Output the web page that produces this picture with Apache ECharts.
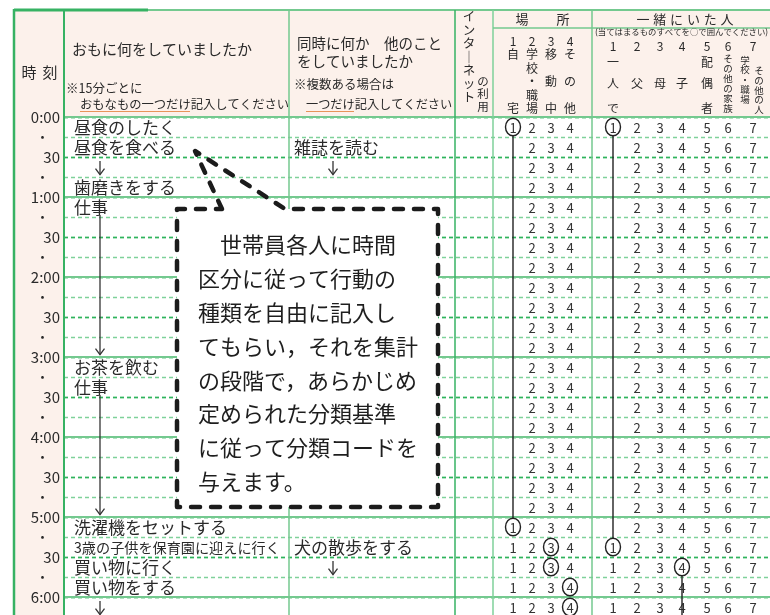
<!DOCTYPE html>
<html><head><meta charset="utf-8">
<script src="https://cdn.jsdelivr.net/npm/echarts@6/dist/echarts.min.js"></script>
<style>html,body{margin:0;padding:0;background:#fff}#c{width:770px;height:615px}</style>
</head><body><div id="c"></div><script>
// ---------- data ----------
const timeLabels = ['0:00','・','30','・','1:00','・','30','・','2:00','・','30','・','3:00','・','30','・','4:00','・','30','・','5:00','・','30','・','6:00'];
const mainRows  = [0,1,3,4,12,13,20,21,22,23];
const mainTexts = ['昼食のしたく','昼食を食べる','歯磨きをする','仕事','お茶を飲む','仕事','洗濯機をセットする','3歳の子供を保育園に迎えに行く','買い物に行く','買い物をする'];
const mainArrowFrom = [2,5,14,24];
const mainArrowTo   = [2,11,19,24];
const subRows  = [1,21];
const subTexts = ['雑誌を読む','犬の散歩をする'];
const subArrowFrom = [2,22];
const subArrowTo   = [2,22];
const placeDigits = ['1','2','3','4'];
const withDigits  = ['1','2','3','4','5','6','7'];
const placeCircleRows  = [0,20,21,22,23,24];
const placeCircleCodes = [1,1,3,3,4,4];
const withCircleRows   = [0,21,22];
const withCircleCodes  = [1,1,4];
const placeLinkFrom = [0],  placeLinkTo = [20],  placeLinkCode = [1],  placeLinkHide = [true];
const withLinkFrom  = [0,22], withLinkTo = [21,25], withLinkCode = [1,4], withLinkHide = [true,false];
const calloutLines = ['　世帯員各人に時間','区分に従って行動の','種類を自由に記入し','てもらい，それを集計','の段階で，あらかじめ','定められた分類基準','に従って分類コードを','与えます。'];

// ---------- layout / style ----------
const FONT = '"Noto Sans CJK JP","Noto Sans",sans-serif';
const INK = '#2a2a2a';
const G_DARK = '#36b263', G_MID = '#74c98f', G_LIGHT = '#7fd19a', G_DASH2 = '#2fb35c';
const PINK = '#fcf1eb';
const ROWS = timeLabels.length;
const MAIN_X = 74, SUB_X = 294, MAIN_ARROW_X = 100, SUB_ARROW_X = 333;
const PLACE_X = [513,532,551,570];
const WITH_X = [613,637,660,682,707,728,753];

function textLen(s){let n=0;for(const ch of s){n+= ch.charCodeAt(0)<256?0.55:1;}return n;}

function textSeries(rows, texts, x0, maxW){
  return {type:'custom', silent:true, z:5, data: rows.map(r=>[r]),
    renderItem(params, api){
      const r = api.value(0); const t = texts[params.dataIndex];
      const p = api.coord([x0, r+0.5]);
      const fs = Math.min(17, maxW/textLen(t));
      return {type:'text', x:p[0], y:p[1]+1, style:{text:t, fontSize:fs, fontFamily:FONT, fill:INK, align:'left', verticalAlign:'middle'}};
    }};
}
function arrowSeries(from, to, x0){
  return {type:'custom', silent:true, z:5, data: from.map((f,i)=>[f,to[i]]),
    renderItem(params, api){
      const f = api.value(0), t = api.value(1);
      const a = api.coord([x0, f===t ? f+0.2 : f-0.1]);
      const b = api.coord([x0, t+0.88]);
      const st = {stroke:'#333', lineWidth:1.3, fill:null};
      return {type:'group', children:[
        {type:'line', shape:{x1:a[0],y1:a[1],x2:b[0],y2:b[1]}, style:st},
        {type:'polyline', shape:{points:[[b[0]-4.5,b[1]-6],[b[0],b[1]],[b[0]+4.5,b[1]-6]]}, style:st}
      ]};
    }};
}
function hiddenDigit(r, code, lf, lt, lc, lh){
  for(let j=0;j<lf.length;j++){ if(lh[j] && lc[j]===code && r>lf[j] && r<lt[j]) return true; }
  return false;
}
const codeSeries = {type:'custom', silent:true, z:6, data: timeLabels.map((_,i)=>[i]),
  renderItem(params, api){
    const r = api.value(0);
    const yc = api.coord([PLACE_X[0], r+0.5])[1];
    const ch = [];
    function addSet(xs, digits, cRows, cCodes, lf, lt, lc, lh){
      digits.forEach((d,k)=>{
        const code = k+1; const x = api.coord([xs[k], r])[0];
        if(!hiddenDigit(r, code, lf, lt, lc, lh))
          ch.push({type:'text', x:x, y:yc+1, style:{text:d, fontSize:13, fontFamily:FONT, fill:'#333', align:'center', verticalAlign:'middle'}});
        for(let j=0;j<cRows.length;j++) if(cRows[j]===r && cCodes[j]===code)
          ch.push({type:'ellipse', shape:{cx:x, cy:yc, rx:7.5, ry:8.8}, style:{fill:null, stroke:'#222', lineWidth:1.4}});
      });
    }
    addSet(PLACE_X, placeDigits, placeCircleRows, placeCircleCodes, placeLinkFrom, placeLinkTo, placeLinkCode, placeLinkHide);
    addSet(WITH_X, withDigits, withCircleRows, withCircleCodes, withLinkFrom, withLinkTo, withLinkCode, withLinkHide);
    return {type:'group', children:ch};
  },
  markLine:{silent:true, symbol:'none', label:{show:false},
    data:[
      {xAxis:289, lineStyle:{color:G_MID, width:1.5, type:'solid'}},
      {xAxis:455, lineStyle:{color:G_DARK, width:1.5, type:'solid'}},
      {xAxis:493, lineStyle:{color:G_LIGHT, width:1.5, type:'solid'}},
      {xAxis:592, lineStyle:{color:G_MID, width:1.5, type:'solid'}}
    ]}
};
function linkSeries(xs, lf, lt, lc){
  return {type:'custom', silent:true, z:6, data: lf.map((f,i)=>[f, lt[i], lc[i]]),
    renderItem(params, api){
      const f=api.value(0), t=api.value(1), c=api.value(2);
      const x = api.coord([xs[c-1], f])[0];
      const y1 = api.coord([xs[c-1], f+0.5])[1] + 8.8;
      const y2 = t < ROWS ? api.coord([xs[c-1], t+0.5])[1] - 8.8 : api.coord([xs[c-1], t])[1];
      return {type:'line', shape:{x1:x,y1:y1,x2:x,y2:y2}, style:{stroke:'#222', lineWidth:1.4}};
    }};
}

// ---------- header graphics ----------
const G = [];
function T(text, x, y, size, align, extra){ G.push(Object.assign({type:'text', x:x, y:y, z:10, style:{text:text, fontSize:size, fontFamily:FONT, fill:INK, align:align||'left', verticalAlign:'middle'}}, extra||{})); }
function V(text, x, yTop, size, lh){ G.push({type:'text', x:x, y:yTop, z:10, style:{text:text.split('').join('\n'), fontSize:size, lineHeight:lh, fontFamily:FONT, fill:INK, align:'center', verticalAlign:'top'}}); }
function L(x1,y1,x2,y2,color,w,z){ G.push({type:'line', z:z||8, shape:{x1,y1,x2,y2}, style:{stroke:color, lineWidth:w}}); }

G.push({type:'rect', z:-5, shape:{x:14,y:10,width:756,height:107}, style:{fill:PINK}});
G.push({type:'rect', z:-5, shape:{x:14,y:10,width:50,height:605}, style:{fill:PINK}});
L(14,10,770,10,G_MID,2);
L(14,10,148,10,G_DARK,3);
L(14,9,14,615,G_DARK,2.5);
L(64,10,64,117,G_DARK,2);
L(289,10,289,117,G_MID,1.5);
L(455,10,455,117,G_DARK,1.5);
L(493,10,493,117,G_LIGHT,1.5);
L(592,10,592,117,G_MID,1.5);
L(493,28,770,28,G_MID,1.5);

T('時',29,72,15,'center'); T('刻',50,72,15,'center');
T('おもに何をしていましたか',72,49,15);
T('※15分ごとに',66,88,12.5);
T('おもなもの一つだけ記入してください',80,104,12.3);
L(80,111.5,190,111.5,'#e8935a',1);
T('同時に何か　他のこと',297,43,14.5);
T('をしていましたか',297,61,14.5);
T('※複数ある場合は',294,84,12.5);
T('一つだけ記入してください',306,104,12.2);
L(306,111.5,354,111.5,'#e8935a',1);
V('インタ｜ネット',469,10,12.5,13.4);
V('の利用',483,75,11.5,12.6);
T('場',522,19,13,'center'); T('所',563,19,13,'center');
placeDigits.forEach((d,k)=>T(d,PLACE_X[k],41,12,'center'));
[['自',0,54],['宅',0,108],['学',1,54],['校',1,68],['・',1,81],['職',1,95],['場',1,108],['移',2,54],['動',2,81],['中',2,108],['そ',3,54],['の',3,81],['他',3,108]]
  .forEach(a=>T(a[0],PLACE_X[a[1]],a[2],12,'center'));
['一','緒','に','い','た','人'].forEach((c,i)=>T(c,643+i*16.8,19,13,'center'));
T('(当てはまるものすべてを○で囲んでください)',595,32,8.4);
withDigits.forEach((d,k)=>T(d,WITH_X[k],46,12,'center'));
[['一',0,62],['人',0,83],['で',0,108],['父',1,83],['母',2,83],['子',3,83],['配',4,62],['偶',4,83],['者',4,108]]
  .forEach(a=>T(a[0],WITH_X[a[1]],a[2],12,'center'));
V('その他の家族',728,53,9.5,10);
V('学校・職場',745,55,9.5,9.8);
V('その他の人',759,66,9.5,9.6);

// ---------- callout ----------
G.push({type:'rect', z:99, shape:{x:177,y:209,width:261,height:298}, style:{fill:'#fff'}});
G.push({type:'polyline', z:100, shape:{points:[[222,209],[195,151],[285,209],[438,209],[438,507],[177,507],[177,209],[222,209]]},
  style:{fill:null, stroke:'#1b1b1b', lineWidth:4.5, lineDash:[9,11], lineCap:'round', lineJoin:'round'}});
calloutLines.forEach((s,i)=>G.push({type:'text', z:101, x:198, y:245+i*33.8, style:{text:s, fontSize:22, fontFamily:FONT, fill:'#1e1e1e', align:'left', verticalAlign:'middle'}}));

// ---------- chart ----------
const hidden = {axisLine:{show:false}, axisTick:{show:false}, axisLabel:{show:false}};
const chart = echarts.init(document.getElementById('c'), null, {renderer:'canvas'});
chart.setOption({
  animation:false,
  backgroundColor:'#ffffff',
  grid:{left:64, top:117, width:706, height:ROWS*20, containLabel:false, outerBoundsMode:'none'},
  xAxis:{type:'value', min:64, max:770, show:false},
  yAxis:[
    {type:'value', inverse:true, min:0, max:ROWS, interval:1, position:'left',
     axisLine:{show:true, lineStyle:{color:G_DARK, width:2}}, axisTick:{show:false},
     axisLabel:{margin:4, fontSize:15, color:INK, fontFamily:FONT,
       formatter:v=>{const s=timeLabels[v]; if(s===undefined) return ''; return s==='・' ? '{d|・}' : s;},
       rich:{d:{fontSize:13, color:INK, fontFamily:FONT, padding:[0,11,0,0]}}},
     splitLine:{show:true, lineStyle:{type:[4,3], width:1.3, color:G_LIGHT}}},
    Object.assign({type:'value', inverse:true, min:0, max:ROWS, interval:2, position:'left',
     splitLine:{show:true, lineStyle:{type:[4,3], width:1.3, color:G_DASH2}}}, hidden),
    Object.assign({type:'value', inverse:true, min:0, max:ROWS, interval:4, position:'left',
     splitLine:{show:true, lineStyle:{color:G_MID, width:2, type:'solid'}}}, hidden)
  ],
  series:[
    codeSeries,
    linkSeries(PLACE_X, placeLinkFrom, placeLinkTo, placeLinkCode),
    linkSeries(WITH_X, withLinkFrom, withLinkTo, withLinkCode),
    textSeries(mainRows, mainTexts, MAIN_X, 206),
    textSeries(subRows, subTexts, SUB_X, 150),
    arrowSeries(mainArrowFrom, mainArrowTo, MAIN_ARROW_X),
    arrowSeries(subArrowFrom, subArrowTo, SUB_ARROW_X)
  ],
  graphic:{elements:G}
});
</script></body></html>
